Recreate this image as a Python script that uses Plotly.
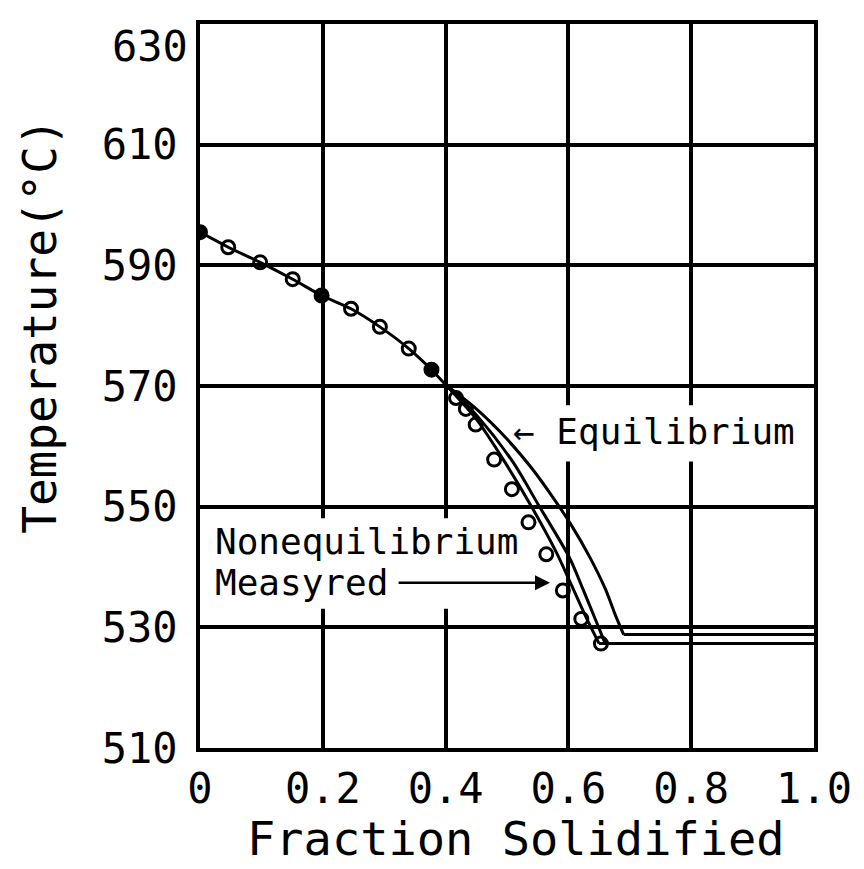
import plotly.graph_objects as go

# ---------------- data ----------------
# measured points (open circles)
meas_x = [0.0, 0.046, 0.098, 0.151, 0.198, 0.246, 0.293, 0.340, 0.377, 0.417, 0.433,
          0.449, 0.479, 0.508, 0.535, 0.564, 0.591, 0.621, 0.653]
meas_T = [595.5, 593.0, 590.5, 587.7, 585.0, 582.8, 579.8, 576.2, 572.7, 568.0, 566.2,
          563.6, 557.8, 552.9, 547.4, 542.1, 536.1, 531.4, 527.3]
meas_filled = [True, False, False, False, True, False, False, False, True, False, False,
               False, False, False, False, False, False, False, False]

# common liquidus segment (up to fs = 0.4)
upper_x = [0.0, 0.046, 0.098, 0.151, 0.198, 0.246, 0.293, 0.340, 0.377, 0.40]
upper_T = [595.5, 593.0, 590.5, 587.7, 585.0, 582.8, 579.8, 576.2, 572.7, 570.2]

# nonequilibrium curve 1 (last point: end of eutectic plateau)
neq1_x = [0.40, 0.45, 0.494, 0.54, 0.58, 0.605, 0.631, 0.650, 1.0]
neq1_T = [570.2, 564.5, 557.8, 550.0, 542.5, 537.0, 531.2, 527.3, 527.3]
# nonequilibrium curve 2
neq2_x = [0.40, 0.45, 0.509, 0.55, 0.602, 0.623, 0.644, 0.660, 1.0]
neq2_T = [570.2, 565.2, 557.5, 550.5, 541.5, 536.5, 531.3, 527.3, 527.3]
# equilibrium curve
eq_x = [0.40, 0.45, 0.50, 0.54, 0.575, 0.605, 0.635, 0.660, 0.677, 0.690, 1.0]
eq_T = [570.2, 566.2, 561.2, 556.4, 551.5, 546.9, 541.6, 536.4, 531.9, 528.8, 528.8]

x_ticks = [0, 0.2, 0.4, 0.6, 0.8, 1.0]
x_tick_labels = ["0", "0.2", "0.4", "0.6", "0.8", "1.0"]
y_ticks = [510, 530, 550, 570, 590, 610, 630]
y_tick_labels = ["510", "530", "550", "570", "590", "610", "630"]

# ---------------- figure ----------------
MONO = "DejaVu Sans Mono"
fig = go.Figure()

line_style = dict(color="black", width=3, shape="spline", smoothing=0.8)
flat_style = dict(color="black", width=3)
fig.add_trace(go.Scatter(x=upper_x, y=upper_T, mode="lines", line=line_style, showlegend=False))
for cx, cy in [(neq1_x, neq1_T), (neq2_x, neq2_T), (eq_x, eq_T)]:
    # curved solidification path, then the flat eutectic plateau
    fig.add_trace(go.Scatter(x=cx[:-1], y=cy[:-1], mode="lines", line=line_style, showlegend=False))
    fig.add_trace(go.Scatter(x=cx[-2:], y=cy[-2:], mode="lines", line=flat_style, showlegend=False))

symbols = ["circle" if f else "circle-open" for f in meas_filled]
fig.add_trace(go.Scatter(
    x=meas_x, y=meas_T, mode="markers",
    marker=dict(symbol=symbols, size=13, color="black", line=dict(color="black", width=3)),
    showlegend=False))

# white backgrounds for labels (hide grid lines, keep traces)
fig.add_shape(type="rect", xref="x", yref="y", x0=0.50, x1=0.955, y0=557.5, y1=566.8,
              fillcolor="white", line=dict(width=0), layer="between")
fig.add_shape(type="rect", xref="x", yref="y", x0=0.008, x1=0.570, y0=533.1, y1=548.1,
              fillcolor="white", line=dict(width=0), layer="between")

lab_font = dict(family=MONO, size=36, color="black")
fig.add_annotation(x=0.506, y=562.5, xref="x", yref="y", text="← Equilibrium",
                   showarrow=False, xanchor="left", yanchor="middle", font=lab_font)
fig.add_annotation(x=0.021, y=544.2, xref="x", yref="y", text="Nonequilibrium",
                   showarrow=False, xanchor="left", yanchor="middle", font=lab_font)
fig.add_annotation(x=0.021, y=537.4, xref="x", yref="y", text="Measyred",
                   showarrow=False, xanchor="left", yanchor="middle", font=lab_font)
fig.add_annotation(x=0.570, y=537.4, ax=0.321, ay=537.4, xref="x", yref="y",
                   axref="x", ayref="y", text="", showarrow=True,
                   arrowhead=2, arrowsize=1.2, arrowwidth=2.5, arrowcolor="black")

# top tick label (sits just below the frame corner in the reference)
tick_font = dict(family=MONO, size=42, color="black")
fig.add_annotation(x=0, y=y_ticks[-1], xref="paper", yref="y", text=y_tick_labels[-1],
                   showarrow=False, xanchor="right", yanchor="top", xshift=-10, yshift=4,
                   font=tick_font)

# axis titles
fig.add_annotation(x=-0.262, y=0.582, xref="paper", yref="paper", text="Temperature(°C)",
                   textangle=-90, showarrow=False, xanchor="center", yanchor="middle",
                   font=dict(family=MONO, size=46, color="black"))
fig.add_annotation(x=0.514, y=-0.125, xref="paper", yref="paper", text="Fraction Solidified",
                   showarrow=False, xanchor="center", yanchor="middle",
                   font=dict(family=MONO, size=47, color="black"))

axis_common = dict(showgrid=True, gridcolor="black", gridwidth=4, zeroline=False,
                   showline=True, linecolor="black", linewidth=4, mirror=True,
                   ticks="", tickfont=tick_font)
fig.update_xaxes(range=[0, 1], tickvals=x_ticks, ticktext=x_tick_labels,
                 ticklabelstandoff=1, **axis_common)
fig.update_yaxes(range=[510, 630], tickvals=y_ticks[:-1], ticktext=y_tick_labels[:-1],
                 ticklabelstandoff=10, **axis_common)

# page body has an 8px margin: shrink the figure so the plot lands where the reference has it
fig.update_layout(width=856, height=861, margin=dict(l=192, r=41, t=13, b=121),
                  plot_bgcolor="white", paper_bgcolor="white", showlegend=False)

fig.write_html("out.html")
